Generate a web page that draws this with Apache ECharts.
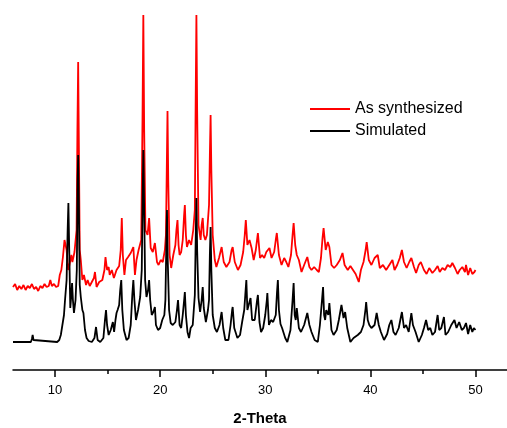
<!DOCTYPE html>
<html>
<head>
<meta charset="utf-8">
<script src="https://cdn.jsdelivr.net/npm/echarts@6/dist/echarts.min.js"></script>
<style>html,body{margin:0;padding:0;background:#fff}#c{width:507px;height:428px}</style>
</head>
<body>
<div id="c"></div>
<script>
// Simulated pattern: [2-theta, intensity]
const simulated = [[6.0,28],[7.7,28],[7.8,31],[7.87,35],[7.95,30],[8.05,28],[10.2,28],[10.4,30],[10.55,35],[10.7,45],[10.85,55],[10.95,70],[11.1,90],[11.2,140],[11.27,167],[11.35,120],[11.45,62],[11.55,75],[11.62,87],[11.7,70],[11.8,57],[11.95,70],[12.07,100],[12.15,190],[12.2,215],[12.27,160],[12.35,85],[12.45,73],[12.6,60],[12.7,57],[12.85,40],[13.0,32],[13.2,29],[13.5,28],[13.75,32],[13.9,43],[14.05,30],[14.3,28],[14.6,32],[14.75,50],[14.85,60],[14.95,45],[15.1,35],[15.3,40],[15.5,48],[15.62,38],[15.75,50],[15.85,57],[15.95,60],[16.1,65],[16.2,80],[16.3,90],[16.4,60],[16.55,40],[16.8,30],[17.0,32],[17.2,45],[17.35,75],[17.45,90],[17.55,70],[17.7,50],[17.9,60],[18.1,73],[18.25,100],[18.33,170],[18.4,220],[18.48,160],[18.57,90],[18.7,73],[18.85,80],[18.95,90],[19.05,70],[19.2,55],[19.35,58],[19.5,63],[19.6,45],[19.8,40],[20.0,42],[20.2,50],[20.4,55],[20.5,70],[20.58,120],[20.65,160],[20.72,110],[20.85,60],[21.0,47],[21.2,45],[21.45,48],[21.6,60],[21.7,70],[21.85,45],[22.0,42],[22.15,55],[22.3,72],[22.35,78],[22.45,55],[22.6,38],[22.75,32],[22.9,42],[23.1,45],[23.3,75],[23.38,130],[23.45,172],[23.52,120],[23.65,72],[23.8,58],[23.95,70],[24.05,83],[24.15,62],[24.35,48],[24.55,60],[24.65,70],[24.73,115],[24.8,143],[24.87,100],[25.0,55],[25.2,42],[25.4,38],[25.65,45],[25.8,55],[25.85,58],[26.0,42],[26.2,30],[26.5,30],[26.7,45],[26.85,60],[26.9,63],[27.05,42],[27.35,32],[27.6,35],[27.8,48],[28.0,60],[28.1,75],[28.2,90],[28.3,60],[28.45,58],[28.6,72],[28.75,50],[29.0,50],[29.2,68],[29.3,75],[29.45,48],[29.6,38],[29.8,42],[30.0,55],[30.15,70],[30.2,77],[30.35,45],[30.55,50],[30.75,48],[31.0,55],[31.12,78],[31.2,90],[31.3,60],[31.45,46],[31.6,42],[31.9,32],[32.1,28],[32.4,40],[32.6,70],[32.7,87],[32.8,55],[32.9,50],[33.0,62],[33.2,42],[33.4,38],[33.7,45],[34.0,57],[34.2,45],[34.4,38],[34.7,30],[35.0,28],[35.2,45],[35.4,70],[35.5,83],[35.6,55],[35.7,50],[35.8,60],[36.0,55],[36.1,67],[36.3,40],[36.5,35],[36.8,40],[37.0,50],[37.25,65],[37.45,52],[37.6,58],[37.8,42],[38.1,28],[38.4,32],[38.8,35],[39.1,38],[39.35,45],[39.55,62],[39.6,68],[39.75,50],[39.9,45],[40.1,42],[40.4,45],[40.6,57],[40.8,45],[41.0,38],[41.3,30],[41.6,36],[41.8,45],[42.0,50],[42.2,38],[42.4,35],[42.7,42],[43.0,58],[43.2,42],[43.4,45],[43.65,38],[43.9,57],[44.05,45],[44.3,38],[44.6,28],[44.9,35],[45.1,42],[45.3,50],[45.5,40],[45.7,42],[45.9,35],[46.15,38],[46.4,55],[46.55,40],[46.75,42],[47.0,53],[47.15,35],[47.4,38],[47.7,45],[48.0,50],[48.2,42],[48.45,48],[48.7,40],[48.9,42],[49.1,47],[49.3,36],[49.5,45],[49.7,38],[49.85,42],[50.0,40]];

// As synthesized pattern: [2-theta, intensity]
const synthesized = [[6.0,83],[6.2,86],[6.4,80],[6.6,84],[6.8,81],[7.0,85],[7.2,80],[7.4,84],[7.6,82],[7.8,86],[8.0,81],[8.2,83],[8.4,79],[8.6,84],[8.8,82],[9.0,86],[9.2,83],[9.4,84],[9.55,90],[9.7,84],[9.9,86],[10.1,83],[10.3,84],[10.45,95],[10.6,100],[10.75,113],[10.9,130],[11.0,132],[11.1,120],[11.25,100],[11.35,104],[11.55,115],[11.65,108],[11.85,118],[12.05,140],[12.13,240],[12.2,308],[12.27,220],[12.35,120],[12.45,110],[12.6,90],[12.75,95],[12.95,85],[13.1,90],[13.3,84],[13.5,88],[13.7,92],[13.8,98],[13.95,83],[14.2,88],[14.5,90],[14.7,100],[14.8,113],[14.95,100],[15.1,103],[15.2,95],[15.4,100],[15.6,92],[15.85,100],[16.1,104],[16.25,120],[16.35,152],[16.45,115],[16.6,95],[16.75,110],[16.95,113],[17.2,117],[17.45,123],[17.6,95],[17.75,110],[17.95,120],[18.2,130],[18.32,250],[18.4,355],[18.48,240],[18.6,140],[18.8,135],[18.95,152],[19.1,122],[19.3,118],[19.5,127],[19.7,108],[19.85,105],[20.05,110],[20.25,108],[20.45,120],[20.55,135],[20.63,200],[20.7,259],[20.77,190],[20.9,115],[21.05,102],[21.25,115],[21.45,125],[21.55,140],[21.65,150],[21.75,125],[21.85,115],[22.0,118],[22.15,130],[22.28,155],[22.35,165],[22.45,135],[22.55,123],[22.75,130],[22.95,125],[23.15,140],[23.3,160],[23.38,270],[23.45,355],[23.52,260],[23.65,145],[23.85,130],[23.95,145],[24.05,152],[24.15,135],[24.3,130],[24.45,135],[24.55,150],[24.65,165],[24.73,215],[24.8,255],[24.87,200],[25.0,135],[25.2,110],[25.35,103],[25.6,112],[25.85,123],[26.05,108],[26.3,103],[26.6,108],[26.8,120],[26.9,123],[27.1,108],[27.4,100],[27.65,105],[27.9,118],[28.05,135],[28.15,150],[28.3,125],[28.5,130],[28.7,122],[28.9,110],[29.1,120],[29.3,137],[29.5,112],[29.7,115],[29.9,112],[30.1,118],[30.4,122],[30.6,112],[30.85,118],[31.0,130],[31.1,137],[31.3,115],[31.55,105],[31.8,112],[32.0,108],[32.2,103],[32.45,115],[32.6,135],[32.7,147],[32.85,125],[33.0,115],[33.2,110],[33.45,98],[33.7,105],[34.0,113],[34.2,103],[34.4,100],[34.65,103],[34.9,100],[35.1,98],[35.3,112],[35.45,132],[35.55,142],[35.75,120],[35.95,128],[36.1,123],[36.3,105],[36.55,102],[36.8,105],[37.1,110],[37.35,117],[37.55,105],[37.85,100],[38.1,104],[38.35,100],[38.6,96],[38.9,88],[39.1,100],[39.35,108],[39.55,120],[39.65,128],[39.85,110],[40.1,105],[40.4,112],[40.7,115],[40.9,102],[41.2,105],[41.5,100],[41.8,105],[42.1,110],[42.3,100],[42.55,105],[42.8,112],[43.0,120],[43.2,108],[43.45,102],[43.7,108],[43.9,112],[44.15,103],[44.35,97],[44.6,105],[44.8,108],[45.1,100],[45.35,96],[45.6,102],[45.9,97],[46.15,100],[46.4,104],[46.6,98],[46.85,102],[47.1,100],[47.35,105],[47.6,103],[47.8,107],[48.05,102],[48.3,96],[48.5,100],[48.75,103],[49.0,98],[49.1,105],[49.3,95],[49.5,102],[49.7,96],[49.9,98],[50.0,100]];

const majorTicks = [10, 20, 30, 40, 50];
const minorTicks = [15, 25, 35, 45];
const seriesNames = ['As synthesized', 'Simulated'];

const chart = echarts.init(document.getElementById('c'), null, {renderer: 'canvas'});
const font = 'Liberation Sans, Arial, sans-serif';
chart.setOption({
  animation: false,
  backgroundColor: '#fff',
  grid: {left: 13, right: 0, top: 10, bottom: 58, containLabel: false, outerBoundsMode: 'none'},
  legend: {
    data: seriesNames,
    orient: 'vertical',
    left: 305, top: 96,
    icon: 'rect', itemWidth: 40, itemHeight: 2, itemGap: 6,
    textStyle: {fontFamily: font, fontSize: 16, color: '#000', lineHeight: 16}
  },
  xAxis: [{
    type: 'value', min: 6, max: 53,
    axisLine: {show: true, lineStyle: {color: '#000', width: 1.5}},
    axisTick: {show: true, customValues: majorTicks, length: 7, lineStyle: {color: '#000', width: 1.5}},
    axisLabel: {show: true, customValues: majorTicks, color: '#000', fontFamily: font, fontSize: 13, margin: 14},
    splitLine: {show: false},
    name: '2-Theta', nameLocation: 'middle', nameGap: 41,
    nameTextStyle: {fontFamily: font, fontSize: 15, fontWeight: 'bold', color: '#000'}
  }, {
    type: 'value', min: 6, max: 53, position: 'bottom',
    axisLine: {show: false},
    axisTick: {show: true, customValues: minorTicks, length: 4, lineStyle: {color: '#000', width: 1.5}},
    axisLabel: {show: false},
    splitLine: {show: false}
  }],
  yAxis: {type: 'value', min: 0, max: 360, show: false},
  series: [{
    name: seriesNames[0], type: 'line', data: synthesized, showSymbol: false,
    lineStyle: {color: '#ff0000', width: 1.8}, itemStyle: {color: '#ff0000'}
  }, {
    name: seriesNames[1], type: 'line', data: simulated, showSymbol: false,
    lineStyle: {color: '#000000', width: 1.8}, itemStyle: {color: '#000000'}
  }]
});
</script>
</body>
</html>
